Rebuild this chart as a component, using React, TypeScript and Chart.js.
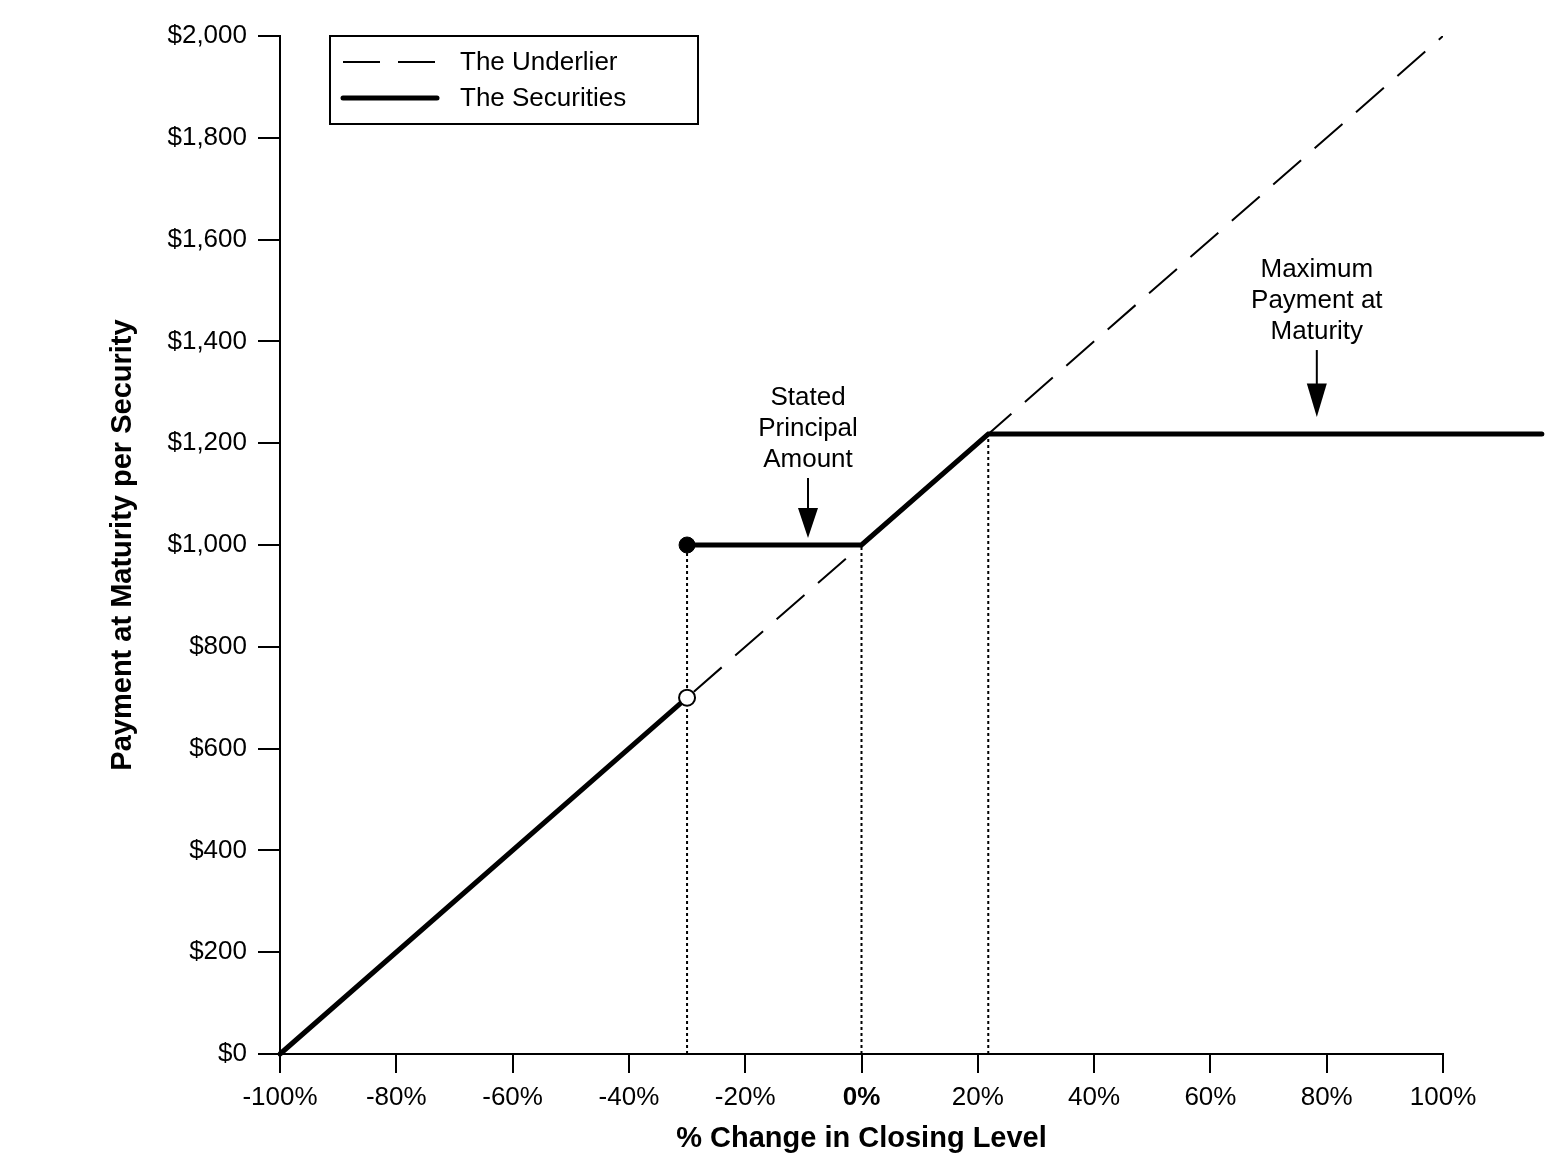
import React, { useEffect, useRef } from "react";
import { Chart, registerables } from "chart.js";

Chart.register(...registerables);

const FONT = "'Liberation Sans', Arial, sans-serif";

// tick values
const xTicks = [-100, -80, -60, -40, -20, 0, 20, 40, 60, 80, 100];
const yTicks = [0, 200, 400, 600, 800, 1000, 1200, 1400, 1600, 1800, 2000];

// the underlier: % change vs payment
const underlierX = [-100, 100];
const underlierY = [0, 2000];

// the securities (null breaks the line at the -30% barrier)
const securitiesX = [-100, -30, -30, -30, 0, 21.8, 117];
const securitiesY = [0, 700, null, 1000, 1000, 1218, 1218];

// barrier points
const dotX = [-30];
const filledDotY = [1000];
const openDotY = [700];

// dotted drop lines
const guideX = [-30, 0, 21.8];
const guideTop = [1000, 1000, 1218];

// annotations
const principalNote = ["Stated", "Principal", "Amount"];
const principalNoteAt = { x: -9.2, y: 1000 };
const maxNote = ["Maximum", "Payment at", "Maturity"];
const maxNoteAt = { x: 78.3, y: 1218 };

const toPoints = (xs: number[], ys: (number | null)[]) =>
  xs.map((x, i) => ({ x, y: ys[i] }));

const notesPlugin = {
  id: "notes",
  afterDatasetsDraw(chart: any) {
    const { ctx } = chart;
    const xs = chart.scales.x;
    const ys = chart.scales.y;
    const draw = (lines: string[], at: { x: number; y: number }, gap: number, shaft: number) => {
      const px = xs.getPixelForValue(at.x);
      const tip = ys.getPixelForValue(at.y) - gap;
      const head = shaft / 2;
      ctx.save();
      ctx.strokeStyle = "#000";
      ctx.fillStyle = "#000";
      ctx.lineWidth = 2;
      ctx.beginPath();
      ctx.moveTo(px, tip - shaft);
      ctx.lineTo(px, tip - head + 2);
      ctx.stroke();
      ctx.beginPath();
      ctx.moveTo(px - 10, tip - head);
      ctx.lineTo(px + 10, tip - head);
      ctx.lineTo(px, tip);
      ctx.closePath();
      ctx.fill();
      ctx.font = `26px ${FONT}`;
      ctx.textAlign = "center";
      ctx.textBaseline = "middle";
      lines.forEach((t, i) => {
        ctx.fillText(t, px, tip - shaft - 18 - (lines.length - 1 - i) * 31);
      });
      ctx.restore();
    };
    draw(principalNote, principalNoteAt, 7, 60);
    draw(maxNote, maxNoteAt, 17, 67);
  },
};

const legendBoxPlugin = {
  id: "legendBox",
  afterDraw(chart: any) {
    const { ctx, chartArea } = chart;
    const left = chartArea.left + 50;
    const top = chartArea.top;
    const items = ["The Underlier", "The Securities"].map((label) =>
      chart.data.datasets.find((d: any) => d.label === label)
    );
    ctx.save();
    ctx.lineWidth = 2;
    ctx.strokeStyle = "#000";
    ctx.strokeRect(left, top, 368, 88);
    items.forEach((ds: any, i: number) => {
      const rowY = top + 26 + i * 36;
      ctx.beginPath();
      ctx.setLineDash(ds.borderDash || []);
      ctx.lineWidth = ds.borderWidth;
      ctx.lineCap = ds.borderCapStyle || "butt";
      ctx.moveTo(left + 13, rowY);
      ctx.lineTo(left + 107, rowY);
      ctx.stroke();
      ctx.setLineDash([]);
      ctx.fillStyle = "#000";
      ctx.font = `26px ${FONT}`;
      ctx.textAlign = "left";
      ctx.textBaseline = "middle";
      ctx.fillText(ds.label, left + 130, rowY + 1);
    });
    ctx.restore();
  },
};

export default function App() {
  const canvasRef = useRef<HTMLCanvasElement | null>(null);
  const chartRef = useRef<Chart | null>(null);

  useEffect(() => {
    const ctx = canvasRef.current?.getContext("2d");
    if (!ctx) return;
    if (chartRef.current) chartRef.current.destroy();

    Chart.defaults.font.family = FONT;
    Chart.defaults.color = "#000";

    const guides = guideX.map((x, i) => ({
      label: "guide" + i,
      data: toPoints([x, x], [0, guideTop[i]]),
      borderColor: "#000",
      borderWidth: 2,
      borderDash: [3, 3],
      pointRadius: 0,
    }));

    chartRef.current = new Chart(ctx, {
      type: "line",
      data: {
        datasets: [
          {
            label: "open",
            data: toPoints(dotX, openDotY),
            showLine: false,
            pointRadius: 8,
            pointBackgroundColor: "#fff",
            pointBorderColor: "#000",
            pointBorderWidth: 2,
          },
          {
            label: "filled",
            data: toPoints(dotX, filledDotY),
            showLine: false,
            pointRadius: 8,
            pointBackgroundColor: "#000",
            pointBorderColor: "#000",
            pointBorderWidth: 1,
          },
          {
            label: "The Securities",
            data: toPoints(securitiesX, securitiesY),
            borderColor: "#000",
            borderWidth: 5,
            borderCapStyle: "round",
            pointRadius: 0,
            spanGaps: false,
            clip: false,
          },
          ...guides,
          {
            label: "The Underlier",
            data: toPoints(underlierX, underlierY),
            borderColor: "#000",
            borderWidth: 2,
            borderDash: [37, 18],
            pointRadius: 0,
          },
        ] as any,
      },
      options: {
        responsive: false,
        animation: false,
        layout: { padding: { top: 36, right: 114, left: 0, bottom: 0 } },
        plugins: {
          legend: { display: false },
          tooltip: { enabled: false },
        },
        scales: {
          x: {
            type: "linear",
            min: -100,
            max: 100,
            afterBuildTicks: (scale: any) => {
              scale.ticks = xTicks.map((value) => ({ value }));
            },
            afterFit: (scale: any) => {
              scale.height = 122;
            },
            grid: {
              drawOnChartArea: false,
              drawTicks: true,
              tickLength: 19,
              color: "#000",
              lineWidth: 2,
            },
            border: { display: true, color: "#000", width: 2 },
            ticks: {
              padding: 9,
              maxRotation: 0,
              autoSkip: false,
              color: "#000",
              font: (c: any) => ({
                size: 26,
                family: FONT,
                weight: c.tick && c.tick.value === 0 ? "bold" : "normal",
              }),
              callback: (v: any) => `${v}%`,
            },
            title: {
              display: true,
              text: "% Change in Closing Level",
              color: "#000",
              font: { size: 29, weight: "bold", family: FONT },
              padding: { top: 0, bottom: 19.6 },
            },
          },
          y: {
            type: "linear",
            min: 0,
            max: 2000,
            afterBuildTicks: (scale: any) => {
              scale.ticks = yTicks.map((value) => ({ value }));
            },
            afterFit: (scale: any) => {
              scale.width = 280;
            },
            grid: {
              drawOnChartArea: false,
              drawTicks: true,
              tickLength: 22,
              color: "#000",
              lineWidth: 2,
            },
            border: { display: true, color: "#000", width: 2 },
            ticks: {
              padding: 11,
              autoSkip: false,
              color: "#000",
              font: { size: 26, family: FONT },
              callback: (v: any) => "$" + Number(v).toLocaleString("en-US"),
            },
            title: {
              display: true,
              text: "Payment at Maturity per Security",
              color: "#000",
              font: { size: 29, weight: "bold", family: FONT },
              padding: { top: 105.6, bottom: 0 },
            },
          },
        },
      },
      plugins: [notesPlugin, legendBoxPlugin],
    });

    return () => {
      if (chartRef.current) {
        chartRef.current.destroy();
        chartRef.current = null;
      }
    };
  }, []);

  return (
    <div style={{ position: "absolute", left: 0, top: 0, width: 1557, height: 1176, background: "#fff" }}>
      <canvas ref={canvasRef} width={1557} height={1176} />
    </div>
  );
}
